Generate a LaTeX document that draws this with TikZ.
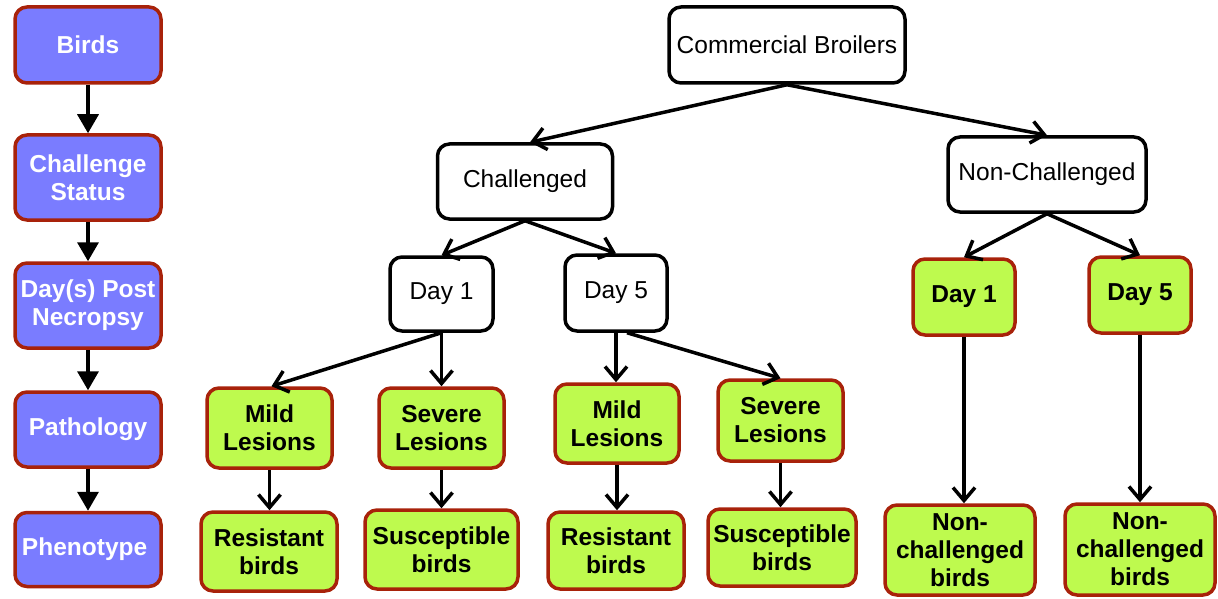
\documentclass[tikz,border=0pt]{standalone}
\usepackage{fontspec}
\setmainfont{Liberation Sans}
\usetikzlibrary{arrows.meta}

\definecolor{stageblue}{RGB}{122,124,255}
\definecolor{edgered}{RGB}{168,34,10}
\definecolor{limegreen}{RGB}{190,250,78}
\def\rad{12pt}

\begin{document}
\begin{tikzpicture}[x=1pt, y=-1pt,
    nodes = {font=\fontsize{24.5}{28}\selectfont, align=center, inner sep=0pt},
    boxdim/.style 2 args={minimum width=#1, minimum height=#2},
    stage/.style={draw=edgered, fill=stageblue, line width=3.5pt, rounded corners=\rad,
      text=white, font=\fontsize{24.5}{28}\selectfont\bfseries},
    group/.style={draw=black, fill=white, line width=3.5pt, rounded corners=\rad},
    outcome/.style={draw=edgered, fill=limegreen, line width=3.5pt, rounded corners=\rad,
      font=\fontsize{24.5}{28}\selectfont\bfseries},
    stagearrow/.style={-{Triangle[length=19pt,width=21pt]}, line width=3.5pt},
    link/.style={-{Straight Barb[length=13pt,width=22pt]}, line width=3.5pt}]
      \useasboundingbox (0,0) rectangle (1218,599);
      % Left column: the levels of the design
      \foreach \name/\ypos/\hgt/\txt in {
          birds/45/76/Birds,
          status/177.5/85/{Challenge\\Status},
          days/305.5/85/{Day(s) Post\\Necropsy},
          patho/429.5/75/Pathology,
          pheno/549.5/74/Phenotype
        } {
          \node[stage, boxdim={146}{\hgt}] (\name) at (88,\ypos) {\txt};
        };
      \foreach \upper/\lower in {birds/status, status/days, days/patho, patho/pheno}
        \draw[stagearrow] (\upper) -- (\lower);
      % Tree of groups
      \node[group, boxdim={236}{76}] (broilers) at (787,45) {Commercial Broilers};
      \node[group, boxdim={175}{75}] (chal) at (525,181.5) {Challenged};
      \node[group, boxdim={198}{75}] (nonchal) at (1047,174.5) {Non-Challenged};
      \node[group, boxdim={103}{74}] (cday1) at (441.5,294) {Day 1};
      \node[group, boxdim={102}{76}] (cday5) at (616,293) {Day 5};
      \node[outcome, boxdim={102}{76}] (nday1) at (964,297) {Day 1};
      \node[outcome, boxdim={102}{76}] (nday5) at (1140,295) {Day 5};
      % Pathology
      \node[outcome, boxdim={125}{80}] (mild1) at (269.5,428) {Mild\\Lesions};
      \node[outcome, boxdim={125}{80}] (severe1) at (441.5,428) {Severe\\Lesions};
      \node[outcome, boxdim={124}{79}] (mild5) at (617,423.5) {Mild\\Lesions};
      \node[outcome, boxdim={125}{81}] (severe5) at (780.5,420.5) {Severe\\Lesions};
      % Phenotype
      \node[outcome, boxdim={136}{79}] (resist1) at (269,551.5) {Resistant\\birds};
      \node[outcome, boxdim={153}{79}] (suscep1) at (441.5,549.5) {Susceptible\\birds};
      \node[outcome, boxdim={136}{77}] (resist5) at (616,550.5) {Resistant\\birds};
      \node[outcome, boxdim={148}{77}] (suscep5) at (782,547.5) {Susceptible\\birds};
      \node[outcome, boxdim={150}{90}] (ncbirds1) at (960,550) {Non-\\challenged\\birds};
      \node[outcome, boxdim={150}{91}] (ncbirds5) at (1140,549.5) {Non-\\challenged\\birds};
      % Connectors
      \draw[link] (broilers.south) -- ([xshift=5pt]chal.north);
      \draw[link] (broilers.south) -- (nonchal.north);
      \draw[link] (chal.south) -- (cday1.north);
      \draw[link] (chal.south) -- (cday5.north);
      \draw[link] (nonchal.south) -- (nday1.north);
      \draw[link] (nonchal.south) -- (nday5.north);
      \draw[link] (cday1.south) -- ([xshift=2pt]mild1.north);
      \draw[link] (cday1.south) -- (severe1.north);
      \draw[link] (cday5.south) -- (cday5.south |- mild5.north);
      \draw[link] ([xshift=11pt]cday5.south) -- (severe5.north);
      \foreach \src/\dst in {mild1/resist1, severe1/suscep1, mild5/resist5,
          severe5/suscep5, nday1/ncbirds1, nday5/ncbirds5}
        \draw[link] (\src.south) -- (\src.south |- \dst.north);
    \end{tikzpicture}
\end{document}
